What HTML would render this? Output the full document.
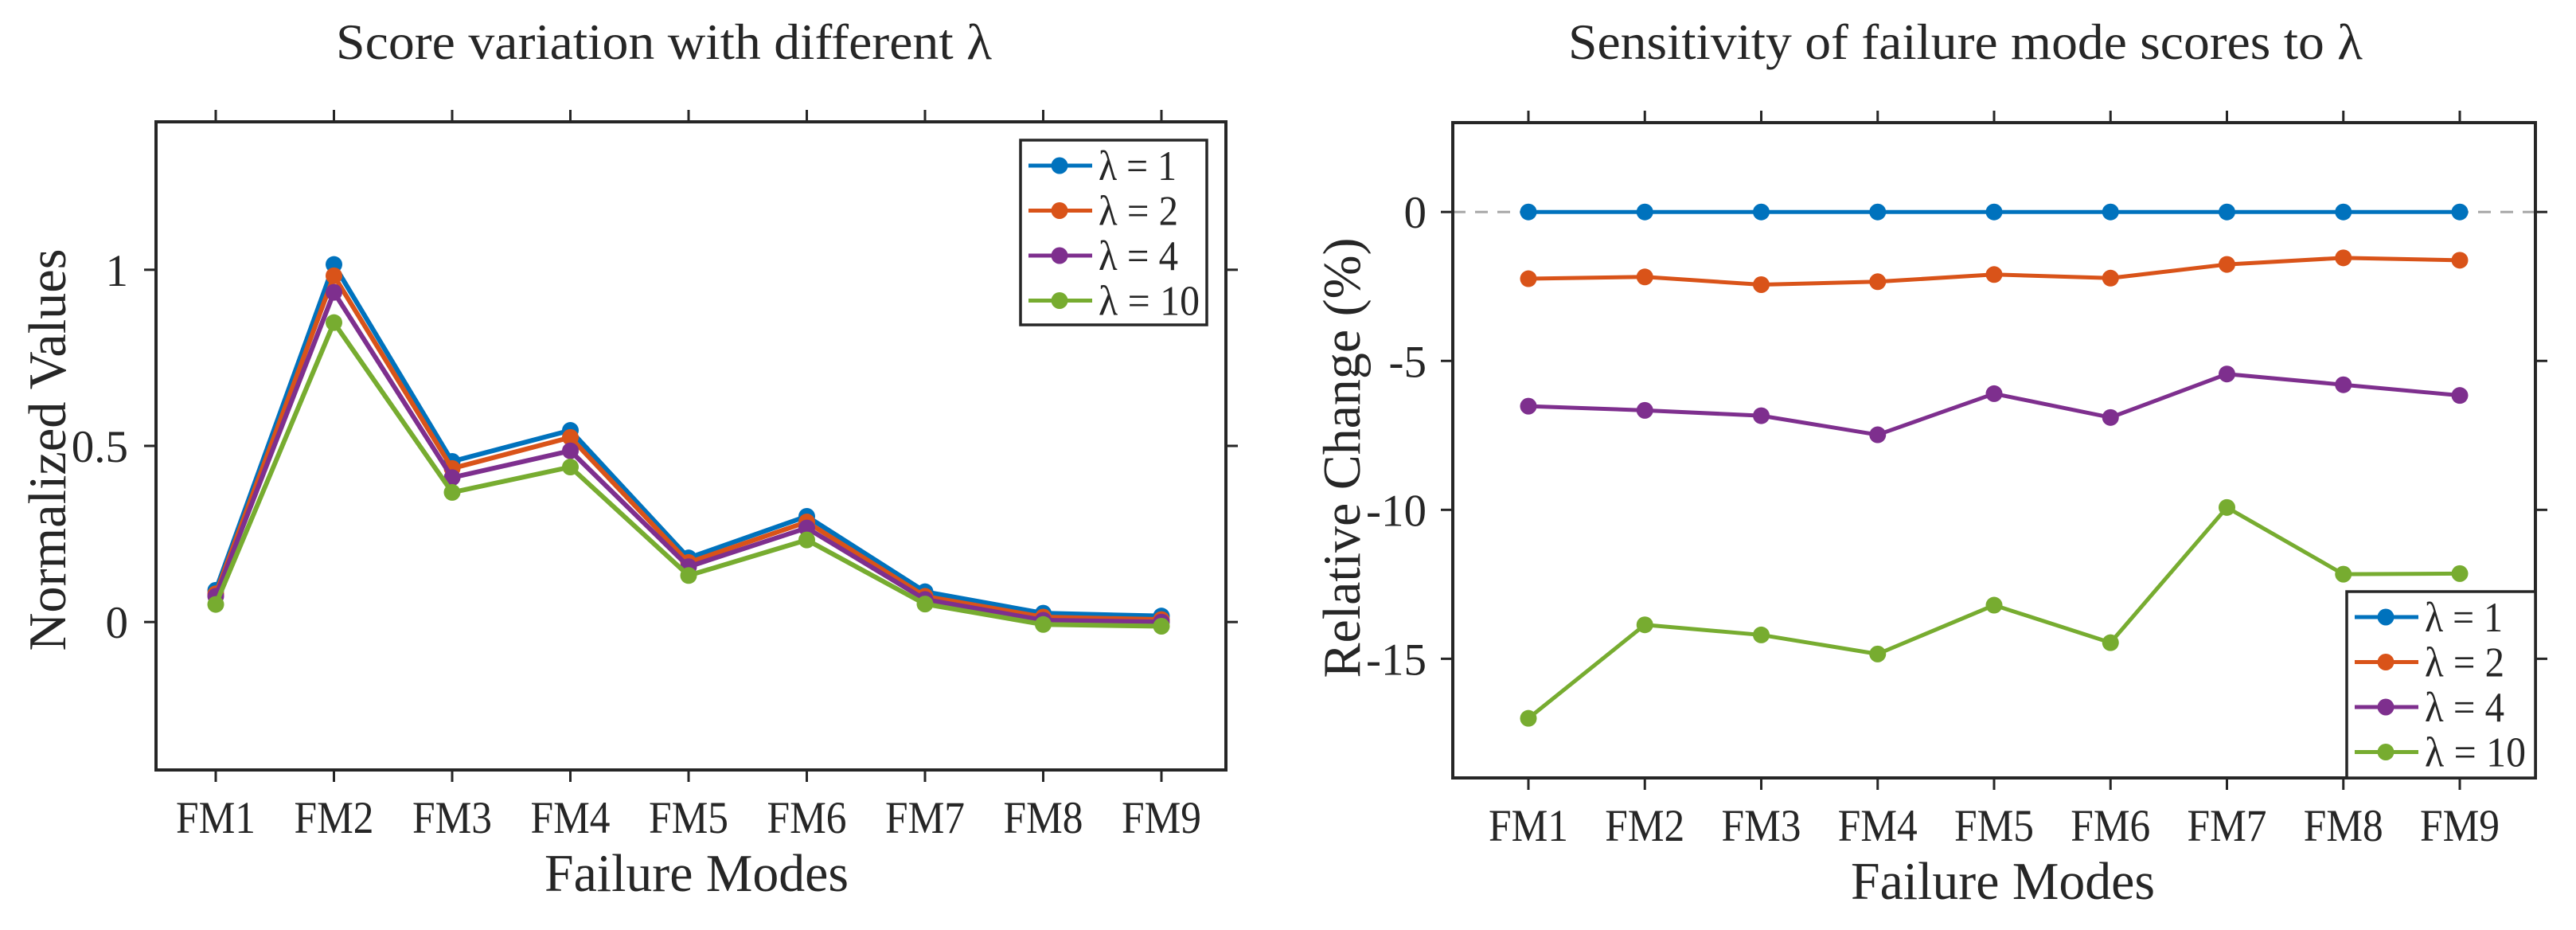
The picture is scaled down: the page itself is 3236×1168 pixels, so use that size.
<!DOCTYPE html>
<html><head><meta charset="utf-8"><style>
html,body{margin:0;padding:0;background:#fff;}
svg{display:block;}
text{font-family:"Liberation Serif",serif;fill:#262626;}
</style></head><body>
<svg id="fig" width="3236" height="1168" viewBox="0 0 3236 1168" xmlns="http://www.w3.org/2000/svg"></svg>
<script>
const categories = ["FM1","FM2","FM3","FM4","FM5","FM6","FM7","FM8","FM9"];
const seriesNames = ["λ = 1","λ = 2","λ = 4","λ = 10"];
const leftL1 = [0.09,1.015,0.456,0.544,0.182,0.30,0.086,0.025,0.017];
const leftL2 = [0.08,0.983,0.436,0.524,0.169,0.284,0.073,0.014,0.007];
const leftL4 = [0.073,0.936,0.41,0.486,0.157,0.267,0.064,0.005,0.0];
const leftL10 = [0.05,0.85,0.368,0.44,0.132,0.233,0.051,-0.007,-0.012];
const rightL1 = [0,0,0,0,0,0,0,0,0];
const rightL2 = [-2.24,-2.18,-2.44,-2.34,-2.1,-2.22,-1.76,-1.54,-1.62];
const rightL4 = [-6.52,-6.66,-6.84,-7.48,-6.1,-6.9,-5.44,-5.8,-6.16];
const rightL10 = [-17.0,-13.86,-14.2,-14.84,-13.2,-14.46,-9.92,-12.16,-12.14];
const leftYTicks = [0,0.5,1];
const leftYTickLabels = ["0","0.5","1"];
const rightYTicks = [0,-5,-10,-15];
const rightYTickLabels = ["0","-5","-10","-15"];

const colors = ["#0072BD","#D95319","#7E2F8E","#77AC30"];
const NS = "http://www.w3.org/2000/svg";
const svg = document.getElementById("fig");
function mk(tag, attrs, parent){
  const e = document.createElementNS(NS, tag);
  for (const k in attrs) e.setAttribute(k, attrs[k]);
  (parent||svg).appendChild(e);
  return e;
}
function txt(str, attrs, parent){ const t = mk("text", attrs, parent); t.textContent = str; return t; }

function drawChart(cfg){
  const g = mk("g", {});
  
  
  const {L,R,T,B,ymin,ymax,x0,dx} = cfg;
  const xs = i => x0 + i*dx;
  const ys = v => T + (ymax - v)/(ymax - ymin)*(B - T);
  if (cfg.zeroLine){
    const z = mk("line",{x1:L,x2:R,y1:ys(0),y2:ys(0),stroke:"#a8a8a8","stroke-width":3,"stroke-dasharray":"16 12"},g);
    
    
  }
  cfg.series.forEach((vals, si) => {
    const sg = mk("g", {}, g);
    
    
    const pts = vals.map((v,i)=> xs(i)+","+ys(v)).join(" ");
    mk("polyline",{points:pts,fill:"none",stroke:colors[si],"stroke-width":cfg.lw,"stroke-linejoin":"round"},sg);
    vals.forEach((v,i)=>{
      const c = mk("circle",{cx:xs(i),cy:ys(v),r:10.5,fill:colors[si]},sg);
      
      
    });
  });
  const box = mk("rect",{x:L,y:T,width:R-L,height:B-T,fill:"none",stroke:"#262626","stroke-width":4},g);
  
  
  categories.forEach((c,i)=>{
    const x = xs(i);
    mk("line",{x1:x,x2:x,y1:B,y2:B+15,stroke:"#262626","stroke-width":3},g);
    mk("line",{x1:x,x2:x,y1:T,y2:T-15,stroke:"#262626","stroke-width":3},g);
    const t = txt(c,{x:x,y:B+79,"font-size":57,"text-anchor":"middle",textLength:100,lengthAdjust:"spacingAndGlyphs"},g);
    
    
  });
  cfg.yTicks.forEach((v,i)=>{
    const y = ys(v);
    mk("line",{x1:L,x2:L-15,y1:y,y2:y,stroke:"#262626","stroke-width":3},g);
    mk("line",{x1:R,x2:R+15,y1:y,y2:y,stroke:"#262626","stroke-width":3},g);
    const t = txt(cfg.yTickLabels[i],{x:cfg.yLabelRight,y:y+20,"font-size":57,"text-anchor":"end"},g);
    
    
  });
  const tt = txt(cfg.title,{x:cfg.titleX,y:74,"font-size":64,"text-anchor":"middle",textLength:cfg.titleW,lengthAdjust:"spacingAndGlyphs"},g);
  
  
  const xl = txt("Failure Modes",{x:cfg.xLabX,y:B+152,"font-size":67,"text-anchor":"middle",textLength:382,lengthAdjust:"spacingAndGlyphs"},g);
  
  
  const yl = txt(cfg.yTitle,{x:0,y:0,"font-size":67,"text-anchor":"middle",textLength:cfg.yTitleW,lengthAdjust:"spacingAndGlyphs",transform:"translate("+cfg.yTitleX+","+cfg.yTitleY+") rotate(-90)"},g);
  
  
  const lg = mk("g",{},g);
  
  
  const lx = cfg.legX, ly = cfg.legY;
  mk("rect",{x:lx,y:ly,width:cfg.legW,height:cfg.legH,fill:"#fff",stroke:"#262626","stroke-width":3.5},lg);
  const lens = [98,100,100,127];
  seriesNames.forEach((n,i)=>{
    const ey = ly + 32 + i*56.5;
    const eg = mk("g",{},lg);
    
    
    mk("line",{x1:lx+10,x2:lx+90,y1:ey,y2:ey,stroke:colors[i],"stroke-width":5},eg);
    mk("circle",{cx:lx+49,cy:ey,r:10.5,fill:colors[i]},eg);
    txt(n,{x:lx+98,y:ey+18,"font-size":53,textLength:lens[i],lengthAdjust:"spacingAndGlyphs"},eg);
  });
}

drawChart({
  name:"score-variation-chart", L:196,R:1540,T:153,B:967, ymin:-0.42,ymax:1.42, x0:271, dx:148.5,
  series:[leftL1,leftL2,leftL4,leftL10], lambdas:[1,2,4,10], lw:6,
  yTicks:leftYTicks, yTickLabels:leftYTickLabels, yLabelRight:161,
  title:"Score variation with different λ", titleX:834, titleW:824,
  xLabX:875, yTitle:"Normalized Values", yTitleX:82, yTitleY:565, yTitleW:505,
  legX:1282, legY:176, legW:234, legH:232, zeroLine:false
});
drawChart({
  name:"sensitivity-chart", L:1825,R:3185,T:154,B:977, ymin:-19,ymax:3, x0:1920, dx:146.25,
  series:[rightL1,rightL2,rightL4,rightL10], lambdas:[1,2,4,10], lw:5,
  yTicks:rightYTicks, yTickLabels:rightYTickLabels, yLabelRight:1792,
  title:"Sensitivity of failure mode scores to λ", titleX:2469, titleW:998,
  xLabX:2516, yTitle:"Relative Change (%)", yTitleX:1708, yTitleY:575, yTitleW:553,
  legX:2948, legY:743, legW:237, legH:234, zeroLine:true
});
</script>
</body></html>
